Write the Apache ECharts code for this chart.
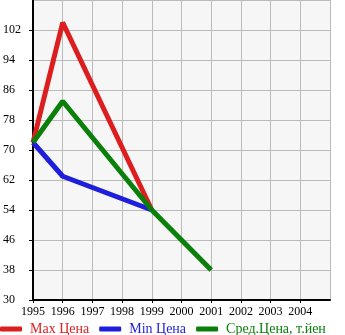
<!DOCTYPE html>
<html>
<head>
<meta charset="utf-8">
<script src="https://cdn.jsdelivr.net/npm/echarts@6/dist/echarts.min.js"></script>
<style>
  html, body { margin: 0; padding: 0; background: #ffffff; }
  #chart { width: 345px; height: 335px; }
</style>
</head>
<body>
<div id="chart"></div>
<script>
// Price history by model year (thousand yen)
var years = [1995, 1996, 1999];
var avgYears = [1995, 1996, 1999, 2001];
var maxPrice = [72, 104, 54];
var minPrice = [72, 63, 54];
var avgPrice = [72, 83, 54, 38];
var seriesNames = ['Max Цена', 'Min Цена', 'Сред.Цена, т.йен'];
var seriesColors = ['#dc1e1e', '#1e1edc', '#0a800a'];

function pairs(xs, ys) {
  return xs.map(function (x, i) { return [x, ys[i]]; });
}

var FONT = '"Liberation Serif", "DejaVu Serif", serif';
var chart = echarts.init(document.getElementById('chart'), null, { renderer: 'canvas' });

chart.setOption({
  animation: false,
  backgroundColor: '#ffffff',
  grid: {
    left: 30, right: 15, top: 0, bottom: 35,
    show: true, backgroundColor: '#f6f6f6', borderWidth: 0
  },
  xAxis: {
    type: 'value',
    min: 1995, max: 2005, interval: 1,
    axisLine: { show: true, onZero: false, lineStyle: { color: '#000', width: 2 } },
    axisTick: { show: true, length: 3, lineStyle: { color: '#000' } },
    axisLabel: {
      showMaxLabel: false,
      color: '#000', fontFamily: FONT, fontSize: 12, margin: 6,
      formatter: function (v) { return String(v); }
    },
    splitLine: { show: true, lineStyle: { color: '#bbbbbb', width: 1 } }
  },
  yAxis: {
    type: 'value',
    min: 30, max: 110, interval: 8,
    axisLine: { show: true, onZero: false, lineStyle: { color: '#000', width: 2 } },
    axisTick: { show: true, length: 4, lineStyle: { color: '#000' } },
    axisLabel: {
      showMaxLabel: false,
      color: '#000', fontFamily: FONT, fontSize: 12,
      align: 'left', margin: 30,
      verticalAlign: 'middle', padding: [0, 0, 8, 0]
    },
    splitLine: { show: true, lineStyle: { color: '#bbbbbb', width: 1 } }
  },
  legend: {
    left: -5, top: 317,
    itemWidth: 22, itemHeight: 5, itemGap: 10,
    icon: 'roundRect',
    textStyle: { fontFamily: FONT, fontSize: 14, padding: [0, 0, 0, 3] },
    data: seriesNames.map(function (n, i) {
      return { name: n, textStyle: { color: seriesColors[i] } };
    })
  },
  series: [
    {
      name: seriesNames[0], type: 'line', data: pairs(years, maxPrice),
      showSymbol: false, symbol: 'none',
      lineStyle: { color: seriesColors[0], width: 5 }, itemStyle: { color: seriesColors[0] }
    },
    {
      name: seriesNames[1], type: 'line', data: pairs(years, minPrice),
      showSymbol: false, symbol: 'none',
      lineStyle: { color: seriesColors[1], width: 5 }, itemStyle: { color: seriesColors[1] }
    },
    {
      name: seriesNames[2], type: 'line', data: pairs(avgYears, avgPrice),
      showSymbol: false, symbol: 'none',
      lineStyle: { color: seriesColors[2], width: 5 }, itemStyle: { color: seriesColors[2] }
    }
  ]
});
</script>
</body>
</html>
